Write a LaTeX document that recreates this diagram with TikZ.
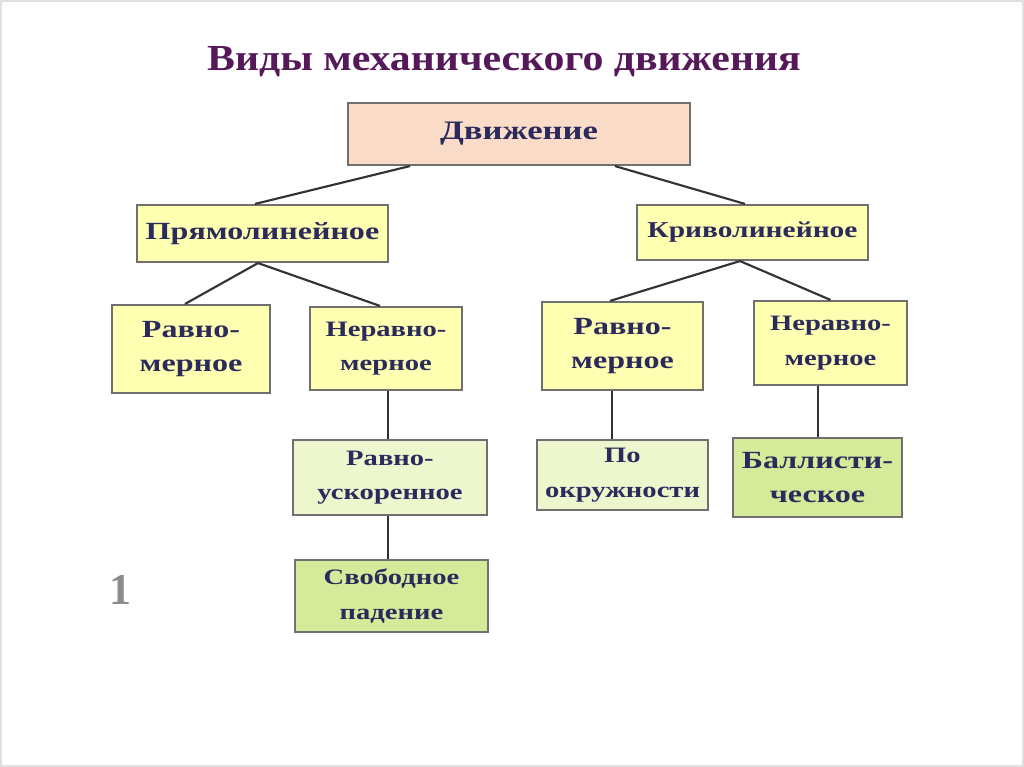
\documentclass[tikz,border=0pt]{standalone}
\usepackage{fontspec}
\setmainfont{Liberation Serif}
\newfontfamily\titlef[FakeStretch=1.14]{Liberation Serif}
\newfontfamily\boxf[FakeStretch=1.3]{Liberation Serif}
\usetikzlibrary{calc}
\definecolor{titlec}{HTML}{55195A}
\definecolor{txtc}{HTML}{2A2A5C}
\definecolor{edgec}{HTML}{707070}
\definecolor{peach}{HTML}{FADCC8}
\definecolor{yel}{HTML}{FFFFB2}
\definecolor{lgreen}{HTML}{EEF6CE}
\definecolor{mgreen}{HTML}{D6EB9A}
\tikzset{
  bx/.style={draw=edgec, line width=1.6pt, inner sep=0pt, align=center, text=txtc},
  big/.style={font=\boxf\bfseries\fontsize{18.5}{26}\selectfont},
  mid/.style={font=\boxf\bfseries\fontsize{16.5}{26}\selectfont},
  link/.style={draw=black!80, line width=1.6pt},
}
\begin{document}
\begin{tikzpicture}[x=0.75pt,y=-0.75pt]
\useasboundingbox (0,0) rectangle (1024,767);
\fill[white] (0,0) rectangle (1024,767);
\draw[black!12, line width=1pt] (1,1) rectangle (1023,766);

\node[font=\titlef\bfseries\fontsize{27.5}{30}\selectfont, text=titlec] (title) at (504,62) {Виды механического движения};

\node[bx, fill=peach, minimum width=342*0.75pt, minimum height=62*0.75pt, font=\boxf\bfseries\fontsize{20}{24}\selectfont] (root) at (519,134) {Движение};

\node[bx, big, fill=yel, minimum width=251*0.75pt, minimum height=57*0.75pt] (pr) at (262.5,233.5) {Прямолинейное};
\node[bx, fill=yel, minimum width=231*0.75pt, minimum height=55*0.75pt, font=\boxf\bfseries\fontsize{17}{24}\selectfont] (kr) at (752.5,232.5) {Криволинейное};

\node[bx, big, fill=yel, minimum width=158*0.75pt, minimum height=88*0.75pt] (r1) at (191,349) {Равно-\\мерное};
\node[bx, mid, fill=yel, minimum width=152*0.75pt, minimum height=83*0.75pt] (n1) at (386,348.5) {Неравно-\\мерное};
\node[bx, big, fill=yel, minimum width=161*0.75pt, minimum height=88*0.75pt] (r2) at (622.5,346) {Равно-\\мерное};
\node[bx, mid, fill=yel, minimum width=153*0.75pt, minimum height=84*0.75pt] (n2) at (830.5,343) {Неравно-\\мерное};

\node[bx, mid, fill=lgreen, minimum width=194*0.75pt, minimum height=75*0.75pt] (u) at (390,477.5) {Равно-\\ускоренное};
\node[bx, mid, fill=lgreen, minimum width=171*0.75pt, minimum height=70*0.75pt] (o) at (622.5,475) {По\\окружности};
\node[bx, big, fill=mgreen, minimum width=169*0.75pt, minimum height=79*0.75pt] (b) at (817.5,477.5) {Баллисти-\\ческое};
\node[bx, mid, fill=mgreen, minimum width=193*0.75pt, minimum height=72*0.75pt] (s) at (391.5,596) {Свободное\\падение};

\node[font=\bfseries\fontsize{33}{36}\selectfont, text=black!45] (num) at (120,590) {1};

\coordinate (c1) at ($(u.north)+(-2,0)$);
\coordinate (c2) at ($(s.north)+(-3.5,0)$);
\coordinate (c3) at ($(o.north)+(-10.5,0)$);
\coordinate (c4) at ($(b.north)+(0.5,0)$);

\draw[link] ($(root.south)+(-109,0)$) -- ($(pr.north)+(-7.5,0)$);
\draw[link] ($(root.south)+(96,0)$) -- ($(kr.north)+(-7.5,0)$);
\draw[link] ($(pr.south)+(-4.5,0)$) -- ($(r1.north)+(-6,0)$);
\draw[link] ($(pr.south)+(-4.5,0)$) -- ($(n1.north)+(-6,0)$);
\draw[link] ($(kr.south)+(-12.5,0)$) -- ($(r2.north)+(-12.5,0)$);
\draw[link] ($(kr.south)+(-12.5,0)$) -- ($(n2.north)+(0,0)$);
\draw[link] (c1) -- (c1 |- n1.south);
\draw[link] (c2) -- (c2 |- u.south);
\draw[link] (c3) -- (c3 |- r2.south);
\draw[link] (c4) -- (c4 |- n2.south);
\end{tikzpicture}
\end{document}
